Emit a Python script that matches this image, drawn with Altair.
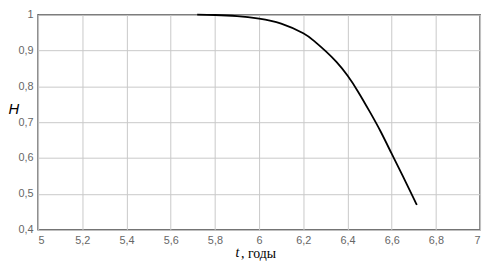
import altair as alt
import pandas as pd

t_vals = [5.72, 5.8, 5.9, 6.0, 6.1, 6.2, 6.25, 6.3, 6.35, 6.4, 6.45, 6.5, 6.55, 6.6, 6.65, 6.7, 6.714]
h_vals = [1.0, 0.999, 0.996, 0.989, 0.975, 0.948, 0.926, 0.899, 0.868, 0.830, 0.783, 0.730, 0.674, 0.612, 0.550, 0.487, 0.469]
x_ticks = [5.0, 5.2, 5.4, 5.6, 5.8, 6.0, 6.2, 6.4, 6.6, 6.8, 7.0]
y_ticks = [0.4, 0.5, 0.6, 0.7, 0.8, 0.9, 1.0]
x_title_var = ["t"]

df = pd.DataFrame({"t": t_vals, "H": h_vals})
df_var = pd.DataFrame({"s": x_title_var})

lbl = "replace(format(datum.value, '.1~f'), '.', ',')"

line = alt.Chart(df).mark_line(color="black", strokeWidth=1.8, interpolate="natural").encode(
    x=alt.X("t:Q", scale=alt.Scale(domain=[5, 7], nice=False),
            axis=alt.Axis(values=x_ticks, labelExpr=lbl, title=", годы",
                          titleFont="Liberation Serif", titleFontSize=14, titleFontWeight="normal",
                          titleColor="black", titleY=24, titleX=223, titleBaseline="middle",
                          ticks=False, labelPadding=5, domain=False)),
    y=alt.Y("H:Q", scale=alt.Scale(domain=[0.4, 1.0], nice=False, zero=False),
            axis=alt.Axis(values=y_ticks, labelExpr=lbl, title="H", titleAngle=360,
                          titleFont="Liberation Sans", titleFontStyle="italic", titleFontSize=15,
                          titleFontWeight="normal", titleColor="black",
                          titleX=-25, titleY=95, titleBaseline="middle", titleAlign="center",
                          ticks=False, labelPadding=5, domain=False)),
)

t_label = alt.Chart(df_var).mark_text(font="Liberation Serif", fontStyle="italic",
                                      fontSize=14, color="black", baseline="middle").encode(
    text="s:N", x=alt.value(202), y=alt.value(242)
)

chart = alt.layer(line, t_label).properties(
    width=448, height=218,
    padding={"left": 30.5, "top": 5, "right": 6, "bottom": 33},
    autosize=alt.AutoSizeParams(type="none"),
    background="white",
).configure_axis(
    gridColor="#c8c8c8", gridWidth=1, gridOpacity=1,
    labelFont="Liberation Sans", labelFontSize=11, labelColor="#666666",
).configure_view(stroke="#555555", strokeWidth=1.5)

chart.save("out.html", embed_options={"renderer": "svg", "actions": False})
